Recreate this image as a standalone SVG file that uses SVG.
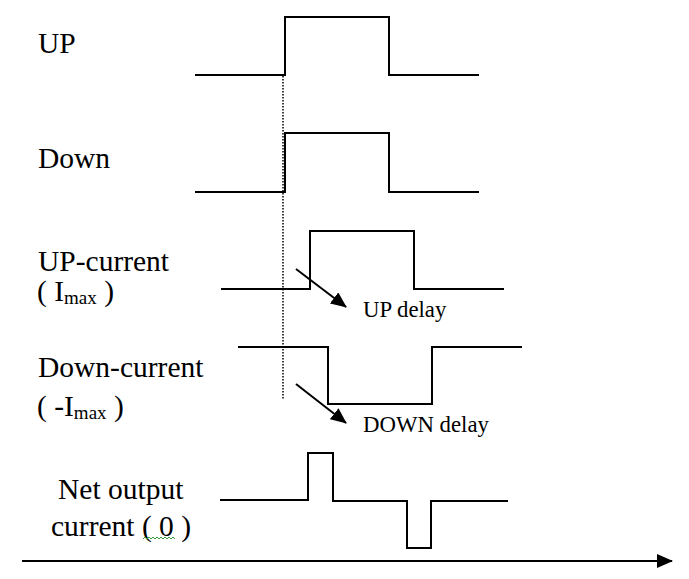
<svg xmlns="http://www.w3.org/2000/svg" width="689" height="579" viewBox="0 0 689 579">
<defs>
<style>
.sig{fill:none;stroke:#000;stroke-width:2;stroke-linejoin:miter}
.lbl{font-size:29.5px;fill:#000}
.sm{font-size:22.8px;fill:#000}
.sub{font-size:19px}
.arr{stroke:#000;stroke-width:2;fill:none}
</style>
<marker id="ah" viewBox="0 0 16 14" refX="15" refY="7" markerWidth="16" markerHeight="14" markerUnits="userSpaceOnUse" orient="auto">
<path d="M0,0 L16,7 L0,14 Z" fill="#000"/>
</marker>
</defs>
<rect width="689" height="579" fill="#fff"/>
<g id="labels" font-family="'Liberation Serif', 'DejaVu Serif', 'Times New Roman', serif">
<text class="lbl" x="38" y="53">UP</text>
<text class="lbl" x="38" y="168">Down</text>
<text class="lbl" x="38" y="271">UP-current</text>
<text class="lbl" x="37" y="301">( I<tspan class="sub" dy="3">max</tspan><tspan dy="-3"> )</tspan></text>
<text class="lbl" x="38" y="377">Down-current</text>
<text class="lbl" x="37" y="416">( -I<tspan class="sub" dy="3">max</tspan><tspan dy="-3"> )</tspan></text>
<text class="lbl" x="58" y="499">Net output</text>
<text class="lbl" x="51" y="536">current ( 0 )</text>
<path d="M143,539 l2,-2 l2,2 l2,-2 l2,2 l2,-2 l2,2 l2,-2 l2,2 l2,-2 l2,2 l2,-2 l2,2 l2,-2 l2,2 l2,-2 l2,2" fill="none" stroke="#3a9a3a" stroke-width="1"/>
<text class="sm" x="363" y="317">UP delay</text>
<text class="sm" x="363" y="432">DOWN delay</text>
</g>
<g id="sig-up"><polyline class="sig" points="195,75 285,75 285,17 389,17 389,75 479,75"/></g>
<g id="sig-down"><polyline class="sig" points="195,192 285,192 285,133 389,133 389,192 479,192"/></g>
<g id="sig-upcurrent"><polyline class="sig" points="221,289 310,289 310,231 414,231 414,289 504,289"/></g>
<g id="sig-downcurrent"><polyline class="sig" points="238,347 328,347 328,404 432,404 432,347 522,347"/></g>
<g id="sig-net"><polyline class="sig" points="220,500 308,500 308,453 333,453 333,501 407,501 407,548 431,548 431,501 508,501"/></g>
<g id="connectors">
<line x1="283" y1="76" x2="283" y2="400" stroke="#000" stroke-width="1.5" stroke-dasharray="1.5,1.5"/>
<line class="arr" x1="296" y1="269" x2="346" y2="307" marker-end="url(#ah)"/>
<line class="arr" x1="296" y1="384" x2="346" y2="423" marker-end="url(#ah)"/>
<line class="arr" x1="22" y1="561" x2="672" y2="561" marker-end="url(#ah)"/>
</g>
</svg>
